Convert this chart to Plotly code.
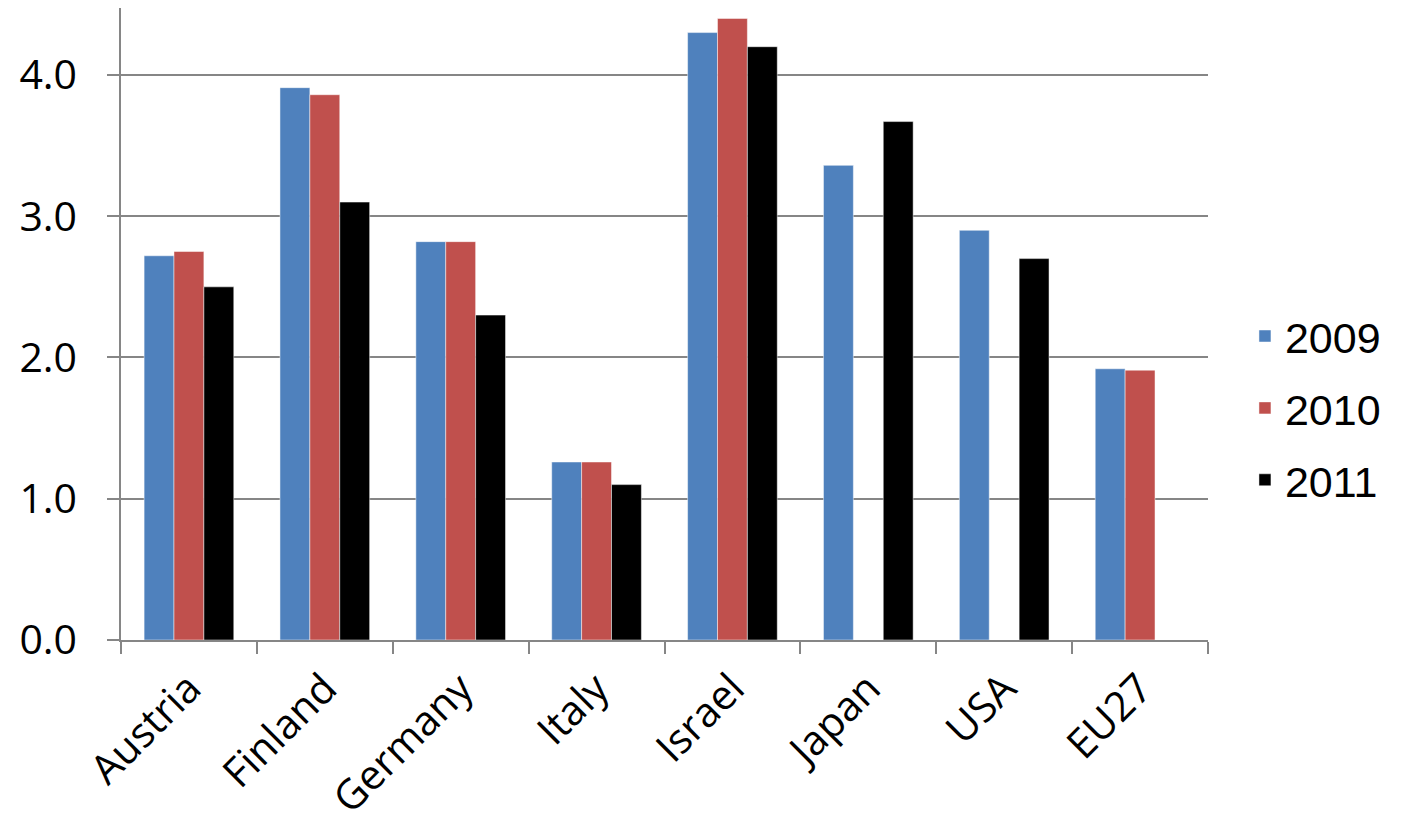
import plotly.graph_objects as go

categories = ["Austria", "Finland", "Germany", "Italy", "Israel", "Japan", "USA", "EU27"]
years = ["2009", "2010", "2011"]
v2009 = [2.72, 3.91, 2.82, 1.26, 4.30, 3.36, 2.90, 1.92]
v2010 = [2.75, 3.86, 2.82, 1.26, 4.40, None, None, 1.91]
v2011 = [2.50, 3.10, 2.30, 1.10, 4.20, 3.67, 2.70, None]
colors = ["#4F81BD", "#C0504D", "#000000"]

fig = go.Figure()
for i, (name, vals) in enumerate(zip(years, [v2009, v2010, v2011])):
    fig.add_trace(go.Bar(
        x=categories, y=vals, name=name, legendgroup=name,
        marker=dict(color=colors[i], line=dict(width=0.8, color="rgba(255,255,255,0.6)")),
    ))

fig.update_layout(
    width=1407, height=825,
    margin=dict(l=113, r=207, t=0, b=193),
    paper_bgcolor="white", plot_bgcolor="white",
    barmode="group", bargap=0.34, bargroupgap=0,
    font=dict(family="Open Sans", size=42, color="black"),
    showlegend=True,
    legend=dict(
        x=1.034, xanchor="left", y=0.367, yanchor="middle",
        font=dict(family="Liberation Sans", size=43, color="black"),
        tracegroupgap=13, itemwidth=30, bgcolor="rgba(0,0,0,0)",
    ),
    xaxis=dict(
        type="category", tickangle=-45, showgrid=False,
        showline=True, linecolor="#868686", linewidth=1.5,
        ticks="outside", tickson="boundaries", ticklen=12, tickcolor="#868686", tickwidth=1.5,
        ticklabelstandoff=6,
        tickfont=dict(family="Open Sans", size=41, color="black"),
    ),
    yaxis=dict(
        range=[0, 4.474], tickvals=[0, 1, 2, 3, 4], tickformat=".1f",
        showgrid=True, gridcolor="#868686", gridwidth=1.5,
        showline=True, linecolor="#868686", linewidth=1.5,
        ticks="outside", ticklen=12, tickcolor="#868686", tickwidth=1.5,
        ticklabelstandoff=22,
        tickfont=dict(family="Open Sans", size=41, color="black"),
        zeroline=False,
    ),
)

fig.write_html("out.html")
